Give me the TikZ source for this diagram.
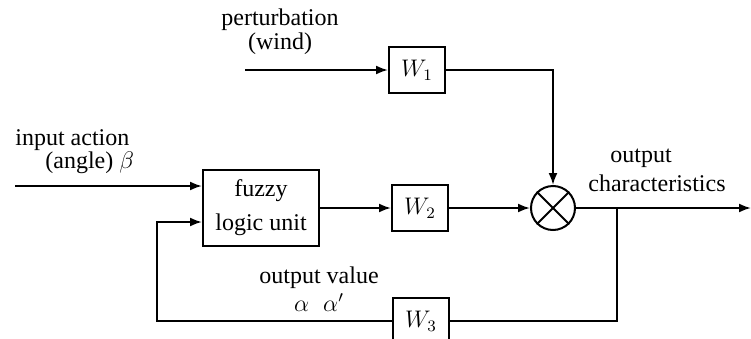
\documentclass[tikz,border=0pt]{standalone}
\usepackage{amsmath, amssymb}
\usepackage{xcolor}
\usepackage{fontspec}
\setmainfont{Liberation Serif}
\usepackage{tikz}
\usetikzlibrary{arrows.meta, calc}

\tikzset{
  block/.style={draw, line width=1pt, minimum width=28pt, minimum height=23pt, inner sep=1pt},
  fuzzybox/.style={draw, line width=1pt, minimum width=58pt, minimum height=38pt, align=center, inner sep=1pt},
  sum/.style={draw, circle, line width=1pt, minimum size=22pt, inner sep=0pt},
  label/.style={inner sep=0pt, align=center},
  wire/.style={line width=1pt},
  flow/.style={wire, -{Latex[length=6pt, width=4.5pt]}}
}

\begin{document}
\begin{tikzpicture}[x=0.5pt, y=-0.5pt, font=\fontsize{12}{12}\selectfont]
\useasboundingbox (0,0) rectangle (751,338);

% blocks
\node[block] (W1) at (417,70) {$W_1$};
\node[fuzzybox] (fuzzy) at (261,208) {fuzzy\\[5pt]logic unit};
\node[block] (W2) at (420,208) {$W_2$};
\node[block] (W3) at (421,321) {$W_3$};
\node[sum] (sum) at (553,208) {};
\draw[wire] (sum.north west) -- (sum.south east);
\draw[wire] (sum.north east) -- (sum.south west);

% texts
\node[label] (pert) at (280,32) {perturbation\\(wind)};
\node[label, anchor=west] (in1) at (15,140) {input action};
\node[label, anchor=west] (in2) at (45,163) {(angle) $\beta$};
\node[label] (out1) at (641,158) {output};
\node[label] (out2) at (657,183) {characteristics};
\node[label] (outval) at (319,289) {output value\\[2pt]$\alpha\hspace{7pt}\alpha'$};

% free ends
\coordinate (wind) at (245,70);
\coordinate (inp) at (15,186);
\coordinate (branch) at (617,208);
\coordinate (outp) at (751,208);
\coordinate (fb) at (157,321);

% connectors
\draw[flow] (wind) -- (W1);
\draw[flow] (W1) -| (sum);
\draw[flow] (inp) -- (inp -| fuzzy.west);
\draw[flow] (fuzzy) -- (W2);
\draw[flow] (W2) -- (sum);
\draw[flow] (sum) -- (outp);
\draw[wire] (branch) |- (W3);
\draw[flow] (W3) -- (fb) |- ($(fuzzy.west)+(0,14)$);
\end{tikzpicture}
\end{document}
